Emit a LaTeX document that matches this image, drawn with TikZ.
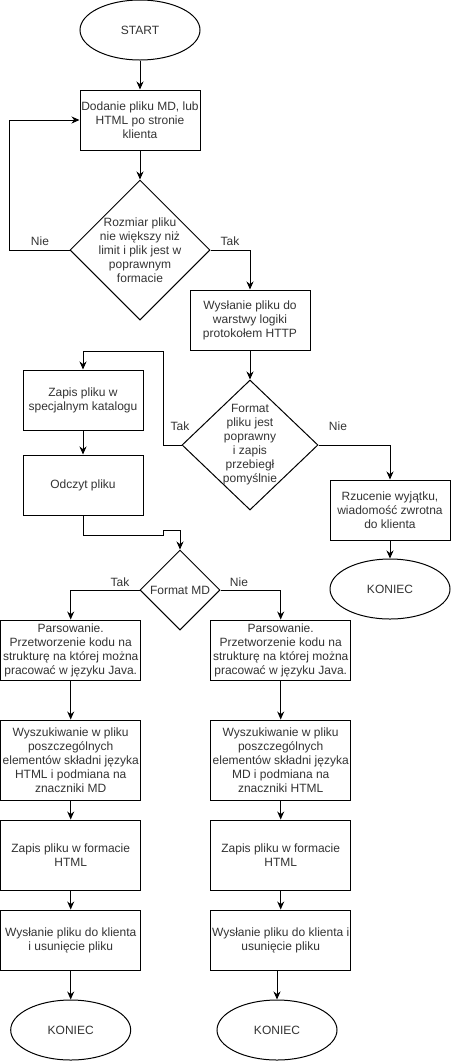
\documentclass[tikz,border=0pt]{standalone}
\usepackage{fontspec}
\setmainfont{Liberation Sans}
\usetikzlibrary{shapes.geometric,arrows.meta}
\begin{document}
\begin{tikzpicture}[x=1pt, y=-1pt, line width=1pt, >={Stealth[length=8pt,width=7pt]},
		every node/.style={font=\fontsize{12}{14}\selectfont, text=black!80, align=center},
		blok/.style={draw=black, rectangle, inner sep=0pt, minimum width=120pt, minimum height=60pt},
		romb/.style={draw=black, diamond, inner sep=-6pt},
		owal/.style={draw=black, ellipse, inner sep=0pt, minimum width=120pt, minimum height=60pt},
		opis/.style={inner sep=0pt}]
	\useasboundingbox (0,0) rectangle (451,1061);
	\node[owal] (start) at (140,30) {START};
	\node[blok] (dodanie) at (140,120) {Dodanie pliku MD, lub\\HTML po stronie\\klienta};
	\node[romb, minimum width=140pt, minimum height=140pt] (rozmiar) at (140,250) {Rozmiar pliku\\nie większy niż\\limit i plik jest w\\poprawnym\\formacie};
	\node[blok] (wyslanie) at (250,320) {Wysłanie pliku do\\warstwy logiki\\protokołem HTTP};
	\node[romb, minimum width=136pt, minimum height=130pt] (format) at (250,445) {Format\\pliku jest\\poprawny\\i zapis\\przebiegł\\pomyślnie};
	\node[blok] (zapis) at (83,400) {Zapis pliku w\\specjalnym katalogu};
	\node[blok] (odczyt) at (83,485) {Odczyt pliku};
	\node[blok] (wyjatek) at (390,510) {Rzucenie wyjątku,\\wiadomość zwrotna\\do klienta};
	\node[owal] (koniec1) at (390,589) {KONIEC};
	\node[romb, minimum width=80pt, minimum height=80pt, inner sep=0pt] (md) at (180,590) {Format MD};
	\node[blok, minimum width=140pt] (parsL) at (70.7,650) {Parsowanie.\\Przetworzenie kodu na\\strukturę na której można\\pracować w języku Java.};
	\node[blok, minimum width=140pt] (parsR) at (280.7,650) {Parsowanie.\\Przetworzenie kodu na\\strukturę na której można\\pracować w języku Java.};
	\node[blok, minimum width=140pt, minimum height=80pt] (szukL) at (70.7,760) {Wyszukiwanie w pliku\\poszczególnych\\elementów składni języka\\HTML i podmiana na\\znaczniki MD};
	\node[blok, minimum width=140pt, minimum height=80pt] (szukR) at (280.7,760) {Wyszukiwanie w pliku\\poszczególnych\\elementów składni języka\\MD i podmiana na\\znaczniki HTML};
	\node[blok, minimum width=140pt, minimum height=70pt] (zapisL) at (70.7,855) {Zapis pliku w formacie\\HTML};
	\node[blok, minimum width=140pt, minimum height=70pt] (zapisR) at (280.7,855) {Zapis pliku w formacie\\HTML};
	\node[blok, minimum width=140pt] (wyslijL) at (70.7,940) {Wysłanie pliku do klienta\\i usunięcie pliku};
	\node[blok, minimum width=140pt] (wyslijR) at (280.7,940) {Wysłanie pliku do klienta i\\usunięcie pliku};
	\node[owal] (koniec2) at (70.7,1030) {KONIEC};
	\node[owal] (koniec3) at (277,1030) {KONIEC};
	\node[opis] (nie1) at (40,241) {Nie};
	\node[opis] (tak1) at (230,241) {Tak};
	\node[opis] (tak2) at (180,426) {Tak};
	\node[opis] (nie2) at (338,426) {Nie};
	\node[opis] (tak3) at (120,582) {Tak};
	\node[opis] (nie3) at (239,582) {Nie};
	\coordinate (c1) at (163,351);
	\coordinate (j1) at (163,535);
	\coordinate (j2) at (163,530);
	\draw[->] (start) -- (dodanie);
	\draw[->] (dodanie) -- (rozmiar);
	\draw[->] (rozmiar.west) -- ++(-60,0) |- (dodanie.west);
	\draw[->] (rozmiar.east) -| (wyslanie.north);
	\draw[->] (wyslanie) -- (format);
	\draw[->] (format.west) -| (c1) -| (zapis.north);
	\draw[->] (format.east) -| (wyjatek.north);
	\draw[->] (wyjatek) -- (koniec1);
	\draw[->] (zapis) -- (odczyt);
	\draw[->] (odczyt.south) |- (j1) -- (j2) -| (md.north);
	\draw[->] (md.west) -| (parsL.north);
	\draw[->] (md.east) -| (parsR.north);
	\draw[->] (parsL) -- (szukL);
	\draw[->] (parsR) -- (szukR);
	\draw[->] (szukL) -- (zapisL);
	\draw[->] (szukR) -- (zapisR);
	\draw[->] (zapisL) -- (wyslijL);
	\draw[->] (zapisR) -- (wyslijR);
	\draw[->] (wyslijL) -- (koniec2);
	\draw[->] (wyslijR.south -| koniec3.north) -- (koniec3.north);
\end{tikzpicture}
\end{document}
